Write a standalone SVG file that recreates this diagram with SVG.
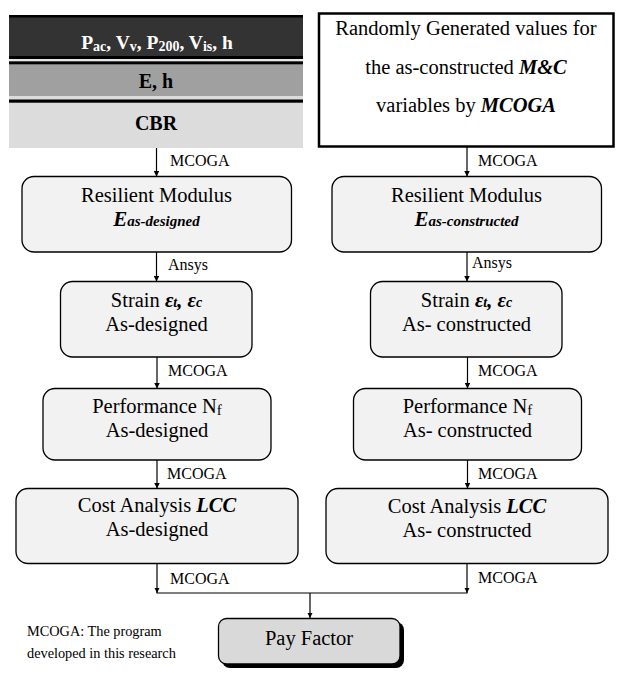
<svg xmlns="http://www.w3.org/2000/svg" width="626" height="681" viewBox="0 0 626 681">
<style>
text{font-family:"Liberation Serif","Times New Roman",serif;fill:#000}
.t{font-size:20.5px;text-anchor:middle}
.lbl{font-size:16px}
.box{fill:#f2f2f2;stroke:#000;stroke-width:1.3}
.b{font-weight:bold}
.bi{font-weight:bold;font-style:italic}
.conn line,.conn polyline{stroke:#000;stroke-width:1.2;fill:none}
</style>
<defs>
<marker id="ah" viewBox="0 0 10 10" refX="10" refY="5" markerWidth="5.5" markerHeight="5.5" orient="auto" markerUnits="userSpaceOnUse">
<path d="M0,0 L10,5 L0,10 z" fill="#000"/>
</marker>
</defs>
<rect width="626" height="681" fill="#fff"/>

<g id="layers">
<rect x="9" y="96" width="294" height="52" fill="#dcdcdc"/>
<rect x="9" y="61" width="294" height="35" fill="#a0a0a0"/>
<rect x="9" y="59" width="294" height="2" fill="#e6e6e6"/>
<rect x="9" y="15" width="294" height="44" fill="#333"/>
<rect x="9" y="15" width="294" height="2.5" fill="#000"/>
<rect x="9" y="56" width="294" height="3" fill="#000"/>
<rect x="9" y="61.5" width="294" height="2.8" fill="#000"/>
<rect x="9" y="99.5" width="294" height="3.2" fill="#000"/>
<text x="157" y="49" text-anchor="middle" class="b" font-size="19.5" style="fill:#fff">P<tspan font-size="14" dy="2">ac</tspan><tspan dy="-2">, V</tspan><tspan font-size="14" dy="2">v</tspan><tspan dy="-2">, P</tspan><tspan font-size="14" dy="2">200</tspan><tspan dy="-2">, V</tspan><tspan font-size="14" dy="2">is</tspan><tspan dy="-2">, h</tspan></text>
<text x="156" y="88" text-anchor="middle" class="b" font-size="20">E, h</text>
<text x="156" y="130" text-anchor="middle" class="b" font-size="20">CBR</text>
</g>

<g id="random">
<rect x="319" y="13.5" width="294.5" height="133" fill="#fff" stroke="#000" stroke-width="2.5"/>
<text x="466" y="35" class="t">Randomly Generated values for</text>
<text x="466" y="74" class="t">the as-constructed <tspan class="bi">M&amp;C</tspan></text>
<text x="466" y="112" class="t">variables by <tspan class="bi">MCOGA</tspan></text>
</g>

<g id="rm-designed">
<rect x="22" y="176.5" width="269.5" height="75.5" rx="12" class="box"/>
<text x="156.5" y="202" class="t">Resilient Modulus</text>
<text x="156.5" y="226" class="t bi"><tspan font-size="21">E</tspan><tspan font-size="15">as-designed</tspan></text>
</g>
<g id="rm-constructed">
<rect x="332" y="176.5" width="269.5" height="75.5" rx="12" class="box"/>
<text x="466.5" y="202" class="t">Resilient Modulus</text>
<text x="466.5" y="226" class="t bi"><tspan font-size="21">E</tspan><tspan font-size="15">as-constructed</tspan></text>
</g>

<g id="strain-designed">
<rect x="60.5" y="281.5" width="191.5" height="75.5" rx="12" class="box"/>
<text x="156.5" y="307" class="t">Strain <tspan class="bi">ε</tspan><tspan class="bi" font-size="14">t</tspan><tspan class="bi">, ε</tspan><tspan class="bi" font-size="14">c</tspan></text>
<text x="156.5" y="331" class="t">As-designed</text>
</g>
<g id="strain-constructed">
<rect x="370.5" y="281.5" width="191.5" height="75.5" rx="12" class="box"/>
<text x="466.5" y="307" class="t">Strain <tspan class="bi">ε</tspan><tspan class="bi" font-size="14">t</tspan><tspan class="bi">, ε</tspan><tspan class="bi" font-size="14">c</tspan></text>
<text x="466.5" y="331" class="t">As- constructed</text>
</g>

<g id="perf-designed">
<rect x="43" y="388.5" width="228" height="71.5" rx="12" class="box"/>
<text x="157" y="413" class="t">Performance N<tspan font-size="15" dy="2">f</tspan></text>
<text x="157" y="437" class="t">As-designed</text>
</g>
<g id="perf-constructed">
<rect x="353.5" y="388.5" width="228" height="71.5" rx="12" class="box"/>
<text x="467.5" y="413" class="t">Performance N<tspan font-size="15" dy="2">f</tspan></text>
<text x="467.5" y="437" class="t">As- constructed</text>
</g>

<g id="cost-designed">
<rect x="16" y="488.5" width="282" height="75" rx="12" class="box"/>
<text x="157" y="512" class="t">Cost Analysis <tspan class="bi">LCC</tspan></text>
<text x="157" y="536" class="t">As-designed</text>
</g>
<g id="cost-constructed">
<rect x="326" y="488.5" width="282" height="75" rx="12" class="box"/>
<text x="467" y="513" class="t">Cost Analysis <tspan class="bi">LCC</tspan></text>
<text x="467" y="537" class="t">As- constructed</text>
</g>

<g id="payfactor">
<rect x="222" y="622" width="182" height="46" rx="8" fill="#000"/>
<rect x="218.5" y="618.5" width="181.5" height="45.5" rx="8" fill="#d9d9d9" stroke="#000" stroke-width="1.3"/>
<text x="309" y="645" class="t" font-size="21">Pay Factor</text>
</g>

<g id="note">
<text x="27" y="636" font-size="14.3">MCOGA: The program</text>
<text x="27" y="658" font-size="14.3">developed in this research</text>
</g>

<g class="conn" id="connectors">
<line x1="156.5" y1="148" x2="156.5" y2="176.5" marker-end="url(#ah)"/>
<line x1="467" y1="147" x2="467" y2="176.5" marker-end="url(#ah)"/>
<line x1="156.5" y1="252" x2="156.5" y2="281.5" marker-end="url(#ah)"/>
<line x1="467" y1="252" x2="467" y2="281.5" marker-end="url(#ah)"/>
<line x1="157" y1="357" x2="157" y2="388.5" marker-end="url(#ah)"/>
<line x1="467.5" y1="357" x2="467.5" y2="388.5" marker-end="url(#ah)"/>
<line x1="157" y1="460" x2="157" y2="488.5" marker-end="url(#ah)"/>
<line x1="467.5" y1="460" x2="467.5" y2="488.5" marker-end="url(#ah)"/>
<line x1="157" y1="563.5" x2="157" y2="593" marker-end="url(#ah)"/>
<line x1="467" y1="563.5" x2="467" y2="593" marker-end="url(#ah)"/>
<line x1="156.5" y1="593" x2="467.5" y2="593"/>
<line x1="310" y1="593" x2="310" y2="618" marker-end="url(#ah)"/>
<text x="170" y="166" class="lbl">MCOGA</text>
<text x="478" y="166" class="lbl">MCOGA</text>
<text x="168" y="270" class="lbl">Ansys</text>
<text x="472" y="268" class="lbl">Ansys</text>
<text x="168" y="376" class="lbl">MCOGA</text>
<text x="478" y="376" class="lbl">MCOGA</text>
<text x="167" y="479" class="lbl">MCOGA</text>
<text x="478" y="479" class="lbl">MCOGA</text>
<text x="170" y="584" class="lbl">MCOGA</text>
<text x="478" y="583" class="lbl">MCOGA</text>
</g>
</svg>
